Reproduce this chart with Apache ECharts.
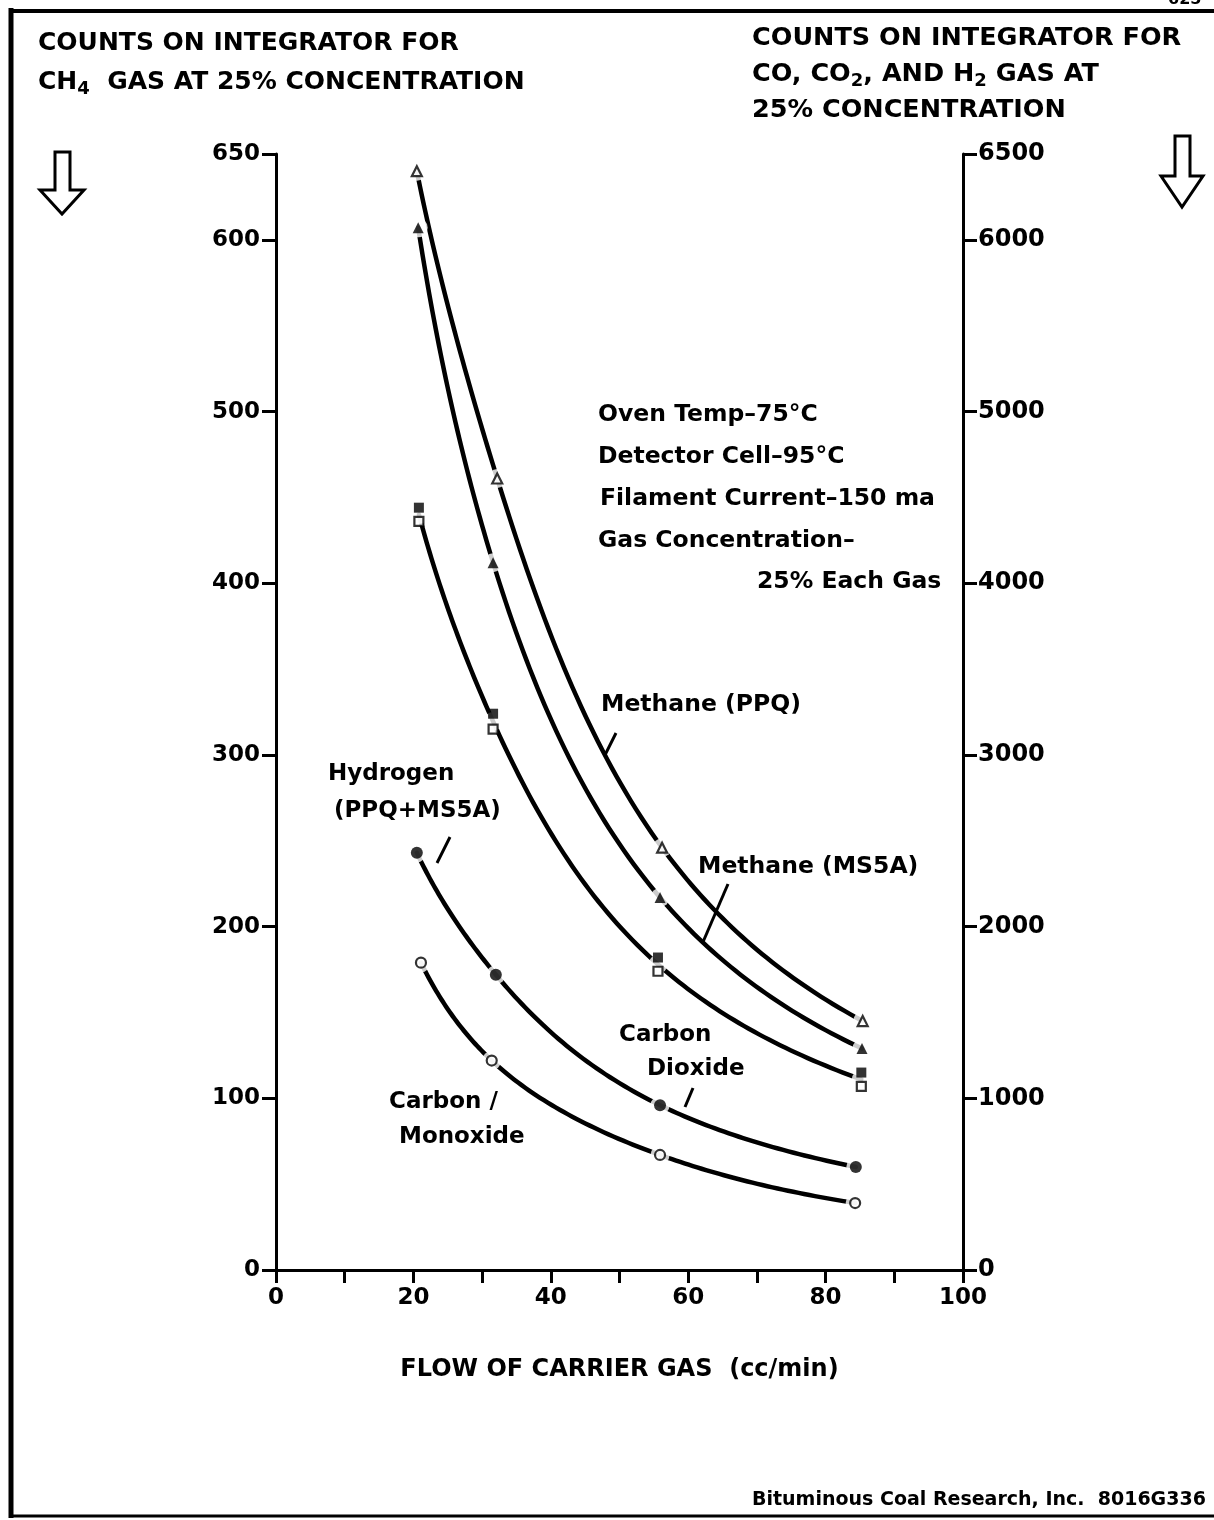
<!DOCTYPE html>
<html><head><meta charset="utf-8">
<script src="https://cdn.jsdelivr.net/npm/echarts@6/dist/echarts.min.js"></script>
<style>html,body{margin:0;padding:0;background:#fff}#c{width:1214px;height:1520px}</style>
</head><body><div id="c"></div>
<script>
// ---- data ----
const xTickLabels = [0, 20, 40, 60, 80, 100];
const leftTickLabels = [0, 100, 200, 300, 400, 500, 600, 650];
const rightTickLabels = [0, 1000, 2000, 3000, 4000, 5000, 6000, 6500];

// Methane, left axis
const flowCH4ppq = [20.5, 32.2, 56.2, 85.4];
const ch4PPQ     = [640, 461, 246, 145];
const flowCH4ms  = [20.7, 31.6, 55.9, 85.3];
const ch4MS5A    = [607, 412, 217, 129];
// Hydrogen (PPQ + MS5A), right axis
const flowH2     = [20.8, 31.6, 55.6, 85.2];
const h2PPQ      = [4440, 3240, 1820, 1150];
const h2MS5A     = [4360, 3150, 1740, 1070];
// Carbon dioxide, right axis
const flowCO2    = [20.5, 32.0, 55.9, 84.4];
const co2        = [2430, 1720, 960, 600];
// Carbon monoxide, right axis
const flowCO     = [21.1, 31.4, 55.9, 84.3];
const co         = [1790, 1220, 670, 390];

const FONT = 'DejaVu Sans';
const pairs = (xs, ys) => xs.map((x, i) => [x, ys[i]]);
const h2Mean = h2PPQ.map((v, i) => (v + h2MS5A[i]) / 2);

// natural cubic spline evaluator
function spline(X, Y) {
  const n = X.length, h = [], s = [];
  for (let i = 0; i < n - 1; i++) { h[i] = X[i + 1] - X[i]; s[i] = (Y[i + 1] - Y[i]) / h[i]; }
  const M = new Array(n).fill(0);
  if (n > 2) {
    const a = [], b = [], c = [], r = [];
    for (let i = 1; i < n - 1; i++) { a.push(h[i - 1]); b.push(2 * (h[i - 1] + h[i])); c.push(h[i]); r.push(6 * (s[i] - s[i - 1])); }
    const m = b.length;
    for (let i = 1; i < m; i++) { const w = a[i] / b[i - 1]; b[i] -= w * c[i - 1]; r[i] -= w * r[i - 1]; }
    const z = new Array(m); z[m - 1] = r[m - 1] / b[m - 1];
    for (let i = m - 2; i >= 0; i--) z[i] = (r[i] - c[i] * z[i + 1]) / b[i];
    for (let i = 0; i < m; i++) M[i + 1] = z[i];
  }
  return function (x, i) {
    const A = (X[i + 1] - x) / h[i], B = (x - X[i]) / h[i];
    return A * Y[i] + B * Y[i + 1] + ((A * A * A - A) * M[i] + (B * B * B - B) * M[i + 1]) * h[i] * h[i] / 6;
  };
}

// smooth curve through the data points, drawn in log-log space (hyperbola-like)
function curve(name, data, yAxisIndex) {
  return { name, type: 'custom', data, yAxisIndex, z: 2, silent: true, animation: false,
    encode: { x: 0, y: 1 },
    renderItem: (params, api) => {
      if (params.dataIndex !== 0) return null;
      const U = data.map(d => Math.log(d[0])), V = data.map(d => Math.log(d[1]));
      const f = spline(U, V);
      const pts = [];
      for (let i = 0; i < U.length - 1; i++) {
        const steps = 40;
        for (let k = 0; k <= steps; k++) {
          if (i > 0 && k === 0) continue;
          const u = U[i] + (U[i + 1] - U[i]) * k / steps;
          pts.push(api.coord([Math.exp(u), Math.exp(f(u, i))]));
        }
      }
      return { type: 'polyline', shape: { points: pts },
        style: { stroke: '#000', lineWidth: 4.5, fill: null, lineJoin: 'round', lineCap: 'round' } };
    } };
}
function gap(data, yAxisIndex) {
  return { type: 'scatter', data, yAxisIndex, symbol: 'circle', symbolSize: 19, z: 3,
    itemStyle: { color: '#fff' }, silent: true, animation: false };
}
function marks(name, data, yAxisIndex, symbol, open, size) {
  return { name, type: 'scatter', data, yAxisIndex, symbol, symbolSize: size, z: 4,
    itemStyle: open ? { color: '#fff', borderColor: '#000', borderWidth: 2.2 } : { color: '#000' },
    silent: true, animation: false };
}

const ch4a = pairs(flowCH4ppq, ch4PPQ), ch4b = pairs(flowCH4ms, ch4MS5A);
const h2a = pairs(flowH2, h2PPQ), h2b = pairs(flowH2, h2MS5A), h2m = pairs(flowH2, h2Mean);
const co2d = pairs(flowCO2, co2), cod = pairs(flowCO, co);

const axisCommon = {
  axisLine: { show: true, lineStyle: { color: '#000', width: 3 } },
  axisTick: { show: true, inside: false, length: 14, lineStyle: { color: '#000', width: 3 } },
  splitLine: { show: false },
  axisLabel: { color: '#000', fontFamily: FONT, fontWeight: 'bold', fontSize: 23, margin: 16 }
};

function txt(x, y, text, size, extra) {
  return Object.assign({ type: 'text', x, y, silent: true,
    style: Object.assign({ text, fill: '#000', fontFamily: FONT, fontWeight: 'bold', fontSize: size,
      verticalAlign: 'middle', align: 'left' }, extra || {}) });
}
function seg(x1, y1, x2, y2, w) {
  return { type: 'line', silent: true, shape: { x1, y1, x2, y2 }, style: { stroke: '#000', lineWidth: w || 3 } };
}
function arrow(x0, x1, sx0, sx1, top, shoulder, tip) {
  const cx = (x0 + x1) / 2;
  return { type: 'polygon', silent: true,
    shape: { points: [[sx0, top], [sx1, top], [sx1, shoulder], [x1, shoulder], [cx, tip], [x0, shoulder], [sx0, shoulder]] },
    style: { fill: '#fff', stroke: '#000', lineWidth: 3 } };
}
const sub = { s: { fontSize: 18, fontFamily: FONT, fontWeight: 'bold', padding: [14, 0, 0, 0] } };

const chart = echarts.init(document.getElementById('c'), null, { renderer: 'canvas' });
chart.setOption({
  backgroundColor: '#fff',
  animation: false,
  grid: { left: 276, right: 251, top: 154, bottom: 250, containLabel: false },
  xAxis: Object.assign({}, axisCommon, {
    type: 'value', min: 0, max: 100, interval: 10,
    axisLabel: Object.assign({}, axisCommon.axisLabel, { margin: 17,
      formatter: v => xTickLabels.includes(v) ? String(v) : '' }),
    axisTick: Object.assign({}, axisCommon.axisTick, { length: 13 }),
    name: 'FLOW OF CARRIER GAS  (cc/min)', nameLocation: 'middle', nameGap: 88,
    nameTextStyle: { color: '#000', fontFamily: FONT, fontWeight: 'bold', fontSize: 24 }
  }),
  yAxis: [
    Object.assign({}, axisCommon, { type: 'value', position: 'left', min: 0, max: 650, interval: 100,
      axisLabel: Object.assign({}, axisCommon.axisLabel, { formatter: v => leftTickLabels.includes(v) ? String(v) : '' }) }),
    Object.assign({}, axisCommon, { type: 'value', position: 'right', min: 0, max: 6500, interval: 1000,
      axisLabel: Object.assign({}, axisCommon.axisLabel, { fontSize: 24, margin: 15, formatter: v => rightTickLabels.includes(v) ? String(v) : '' }) })
  ],
  series: [
    curve('Methane (PPQ)', ch4a, 0),
    curve('Methane (MS5A)', ch4b, 0),
    curve('Hydrogen (PPQ+MS5A)', h2m, 1),
    curve('Carbon Dioxide', co2d, 1),
    curve('Carbon Monoxide', cod, 1),
    gap(ch4a, 0), gap(ch4b, 0), gap(h2m, 1), gap(co2d, 1), gap(cod, 1),
    marks('Methane (PPQ)', ch4a, 0, 'triangle', true, 10),
    marks('Methane (MS5A)', ch4b, 0, 'triangle', false, 11),
    marks('Hydrogen PPQ', h2a, 1, 'rect', false, 10),
    marks('Hydrogen MS5A', h2b, 1, 'rect', true, 9),
    marks('Carbon Dioxide', co2d, 1, 'circle', false, 12),
    marks('Carbon Monoxide', cod, 1, 'circle', true, 10)
  ],
  graphic: [
    // frame
    seg(11, 8, 11, 1518, 5), seg(9, 11, 1214, 11, 4), seg(9, 1516, 1214, 1516, 3),
    txt(1168, 0, '625', 16),
    // titles
    txt(38, 43, 'COUNTS ON INTEGRATOR FOR', 25),
    txt(38, 82, 'CH{s|4}  GAS AT 25% CONCENTRATION', 25, { rich: sub }),
    txt(752, 38, 'COUNTS ON INTEGRATOR FOR', 25.5),
    txt(752, 74, 'CO, CO{s|2}, AND H{s|2} GAS AT', 25.5, { rich: sub }),
    txt(752, 110, '25% CONCENTRATION', 25.5),
    arrow(40, 84, 55, 70, 152, 190, 214),
    arrow(1161, 1203, 1175, 1190, 136, 176, 207),
    // notes
    txt(598, 415, 'Oven Temp\u201375\u00B0C', 23.5),
    txt(598, 457, 'Detector Cell\u201395\u00B0C', 23.5),
    txt(600, 499, 'Filament Current\u2013150 ma', 23.5),
    txt(598, 541, 'Gas Concentration\u2013', 23.5),
    txt(757, 582, '25% Each Gas', 23.5),
    // curve labels
    txt(601, 705, 'Methane (PPQ)', 23.5), seg(616, 733, 605, 755),
    txt(698, 867, 'Methane (MS5A)', 23.5), seg(728, 884, 703, 942),
    txt(328, 774, 'Hydrogen', 23), txt(334, 811, '(PPQ+MS5A)', 23), seg(450, 837, 437, 863),
    txt(619, 1035, 'Carbon', 23), txt(647, 1069, 'Dioxide', 23), seg(693, 1088, 685, 1107),
    txt(389, 1102, 'Carbon /', 23), txt(399, 1137, 'Monoxide', 23),
    // footer
    txt(752, 1500, 'Bituminous Coal Research, Inc.  8016G336', 19)
  ]
});
</script>
</body></html>
